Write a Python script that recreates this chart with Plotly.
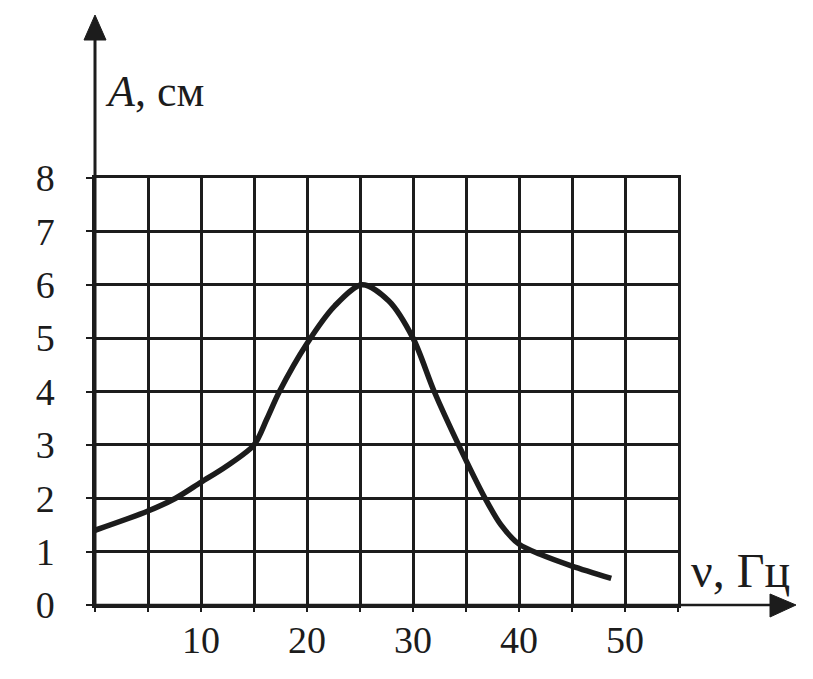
import plotly.graph_objects as go

# ---- data ----
freq_hz = [0, 5, 7.6, 10, 12.4, 15, 16.2, 17.4, 20, 22.6, 25.2, 27.7, 30, 32, 34.3, 36.8, 38.3, 40, 42, 45, 48.7]
amp_cm = [1.4, 1.76, 2.0, 2.3, 2.6, 3.0, 3.48, 4.0, 4.9, 5.6, 6.0, 5.7, 5.0, 4.0, 3.0, 2.0, 1.5, 1.14, 0.95, 0.73, 0.5]

x_tick_vals = [0, 5, 10, 15, 20, 25, 30, 35, 40, 45, 50, 55]
x_tick_text = ["", "", "10", "", "20", "", "30", "", "40", "", "50", ""]
y_tick_vals = [0, 1, 2, 3, 4, 5, 6, 7, 8]
y_tick_text = ["0", "1", "2", "3", "4", "5", "6", "7", "8"]

x_title = "ν, Гц"
y_title = "<i>A</i>, см"

# page body has an 8px margin; size the figure so the page fits the window
OFF = 8
W, H = 813 - OFF, 679 - OFF
PLOT_L, PLOT_R, PLOT_T, PLOT_B = 95, 678, 178, 605   # target pixel box in window
ML, MT = PLOT_L - OFF, PLOT_T - OFF
MR = W - (PLOT_R - OFF)
MB = H - (PLOT_B - OFF)
PW, PH = PLOT_R - PLOT_L, PLOT_B - PLOT_T

FONT = "Liberation Serif, Times New Roman, serif"
INK = "#1c1c1c"


def px_to_paper(px, py):
    return (px - PLOT_L) / PW, (PLOT_B - py) / PH


fig = go.Figure()
fig.add_trace(go.Scatter(
    x=freq_hz, y=amp_cm, mode="lines",
    line=dict(color=INK, width=5.5, shape="spline", smoothing=0.85),
    hoverinfo="skip", showlegend=False,
))

axis_common = dict(
    showgrid=True, gridcolor=INK, gridwidth=2.5,
    zeroline=False, showline=True, linecolor=INK, linewidth=2.5, mirror=True,
    ticks="outside", tickcolor=INK, tickwidth=2,
    tickfont=dict(family=FONT, size=38, color=INK),
    fixedrange=True,
)

fig.update_xaxes(range=[0, 55], tickmode="array", tickvals=x_tick_vals, ticktext=x_tick_text,
                 ticklen=4, ticklabelstandoff=-4, **axis_common)
fig.update_yaxes(range=[0, 8], tickmode="array", tickvals=y_tick_vals, ticktext=y_tick_text,
                 ticklen=6, ticklabelstandoff=24, **axis_common)

# axis arrows (decoration, paper coordinates)
shapes = []
x0p, y0p = px_to_paper(95, 605)
_, ytop = px_to_paper(95, 36)
shapes.append(dict(type="line", xref="paper", yref="paper", x0=x0p, y0=y0p, x1=x0p, y1=ytop,
                   line=dict(color=INK, width=3)))
tx, ty = px_to_paper(95, 15)
lx, by = px_to_paper(84, 40)
rx, _ = px_to_paper(106, 40)
shapes.append(dict(type="path", xref="paper", yref="paper",
                   path=f"M {tx} {ty} L {lx} {by} L {rx} {by} Z",
                   fillcolor=INK, line=dict(color=INK, width=1)))
xend, _ = px_to_paper(775, 605)
shapes.append(dict(type="line", xref="paper", yref="paper", x0=x0p, y0=y0p, x1=xend, y1=y0p,
                   line=dict(color=INK, width=2.5)))
tipx, tipy = px_to_paper(796, 605)
bx, upy = px_to_paper(770, 594)
_, dny = px_to_paper(770, 617)
shapes.append(dict(type="path", xref="paper", yref="paper",
                   path=f"M {tipx} {tipy} L {bx} {upy} L {bx} {dny} Z",
                   fillcolor=INK, line=dict(color=INK, width=1)))

ax_t, ay_t = px_to_paper(103, 91)
bx_t, by_t = px_to_paper(689, 570)
annotations = [
    dict(text=y_title, xref="paper", yref="paper", x=ax_t, y=ay_t, xanchor="left", yanchor="middle",
         showarrow=False, font=dict(family=FONT, size=44, color=INK)),
    dict(text=x_title, xref="paper", yref="paper", x=bx_t, y=by_t, xanchor="left", yanchor="middle",
         showarrow=False, font=dict(family=FONT, size=48, color=INK)),
]

fig.update_layout(
    width=W, height=H,
    margin=dict(l=ML, r=MR, t=MT, b=MB, pad=0),
    paper_bgcolor="white", plot_bgcolor="white",
    shapes=shapes, annotations=annotations,
    showlegend=False,
)

fig.write_html("out.html", config={"displayModeBar": False})
